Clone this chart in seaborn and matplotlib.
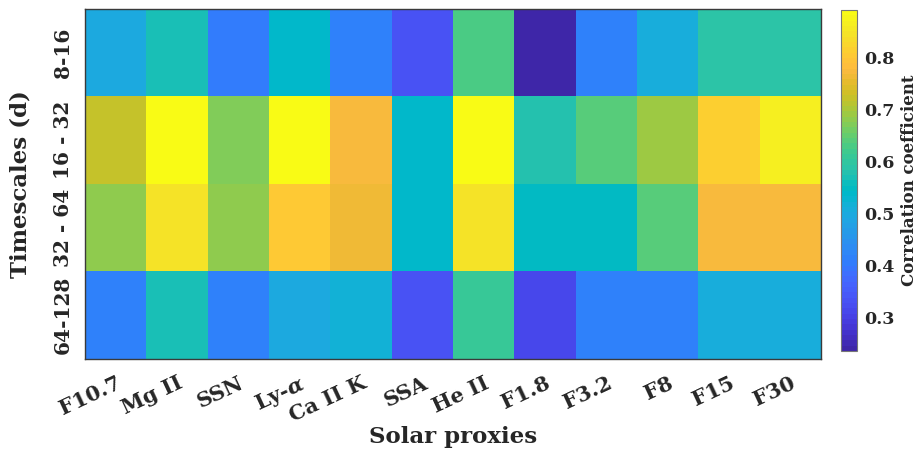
import numpy as np
import pandas as pd
import matplotlib
matplotlib.use("Agg")
import matplotlib.pyplot as plt
from matplotlib.colors import ListedColormap
import seaborn as sns

# Solar proxies (columns) and timescale bands in days (rows)
proxies = ["F10.7", "Mg II", "SSN", "Ly-$\\alpha$", "Ca II K", "SSA",
           "He II", "F1.8", "F3.2", "F8", "F15", "F30"]
timescales = ["8-16", "16 - 32", "32 - 64", "64-128"]

# Correlation coefficient for each timescale band
corr_8_16 = [0.502, 0.564, 0.405, 0.538, 0.420, 0.338, 0.630, 0.236, 0.410, 0.507, 0.584, 0.584]
corr_16_32 = [0.722, 0.891, 0.666, 0.889, 0.778, 0.543, 0.889, 0.579, 0.640, 0.696, 0.814, 0.865]
corr_32_64 = [0.686, 0.845, 0.686, 0.804, 0.763, 0.533, 0.845, 0.553, 0.553, 0.645, 0.778, 0.778]
corr_64_128 = [0.420, 0.564, 0.420, 0.497, 0.517, 0.333, 0.609, 0.308, 0.410, 0.410, 0.507, 0.507]

# 64-step parula palette
parula_rgb = [
    [0.2422, 0.1504, 0.6603], [0.2504, 0.1650, 0.7076], [0.2578, 0.1818, 0.7511],
    [0.2647, 0.1978, 0.7952], [0.2706, 0.2147, 0.8364], [0.2751, 0.2342, 0.8710],
    [0.2783, 0.2559, 0.8991], [0.2803, 0.2782, 0.9221], [0.2813, 0.3006, 0.9414],
    [0.2810, 0.3228, 0.9579], [0.2795, 0.3447, 0.9717], [0.2760, 0.3667, 0.9829],
    [0.2699, 0.3892, 0.9906], [0.2602, 0.4123, 0.9952], [0.2440, 0.4358, 0.9988],
    [0.2206, 0.4603, 0.9973], [0.1963, 0.4847, 0.9892], [0.1834, 0.5074, 0.9798],
    [0.1786, 0.5289, 0.9682], [0.1764, 0.5499, 0.9520], [0.1687, 0.5703, 0.9359],
    [0.1540, 0.5902, 0.9218], [0.1460, 0.6091, 0.9079], [0.1380, 0.6276, 0.8973],
    [0.1248, 0.6459, 0.8883], [0.1113, 0.6635, 0.8763], [0.0952, 0.6798, 0.8598],
    [0.0689, 0.6948, 0.8394], [0.0297, 0.7082, 0.8163], [0.0036, 0.7203, 0.7917],
    [0.0067, 0.7312, 0.7660], [0.0433, 0.7411, 0.7394], [0.0964, 0.7500, 0.7120],
    [0.1408, 0.7584, 0.6842], [0.1717, 0.7670, 0.6554], [0.1938, 0.7758, 0.6251],
    [0.2161, 0.7843, 0.5923], [0.2470, 0.7918, 0.5567], [0.2906, 0.7973, 0.5188],
    [0.3406, 0.8008, 0.4789], [0.3909, 0.8029, 0.4354], [0.4456, 0.8024, 0.3909],
    [0.5044, 0.7993, 0.3480], [0.5616, 0.7942, 0.3045], [0.6174, 0.7876, 0.2612],
    [0.6720, 0.7793, 0.2227], [0.7242, 0.7698, 0.1910], [0.7738, 0.7598, 0.1646],
    [0.8203, 0.7498, 0.1535], [0.8634, 0.7406, 0.1596], [0.9035, 0.7330, 0.1774],
    [0.9393, 0.7288, 0.2100], [0.9728, 0.7298, 0.2394], [0.9956, 0.7434, 0.2371],
    [0.9970, 0.7659, 0.2199], [0.9952, 0.7893, 0.2028], [0.9892, 0.8136, 0.1885],
    [0.9786, 0.8386, 0.1766], [0.9676, 0.8639, 0.1643], [0.9610, 0.8890, 0.1537],
    [0.9597, 0.9135, 0.1423], [0.9628, 0.9373, 0.1265], [0.9691, 0.9606, 0.1064],
    [0.9769, 0.9839, 0.0805],
]
parula = ListedColormap(parula_rgb, name="parula")

df = pd.DataFrame([corr_8_16, corr_16_32, corr_32_64, corr_64_128],
                  index=timescales, columns=proxies)

sns.set_theme(style="white")
plt.rcParams["font.family"] = ["DejaVu Serif"]
plt.rcParams["font.weight"] = "bold"
plt.rcParams["mathtext.fontset"] = "dejavuserif"

fig = plt.figure(figsize=(9.22, 4.54), dpi=100)
ax = fig.add_axes([0.0922, 0.2093, 0.7983, 0.7709])
cax = fig.add_axes([0.9121, 0.2269, 0.0174, 0.7511])

sns.heatmap(df, ax=ax, cmap=parula, cbar_ax=cax, linewidths=0,
            cbar_kws={"ticks": [0.3, 0.4, 0.5, 0.6, 0.7, 0.8]})

edge = "#3a3a3a"
for s in ax.spines.values():
    s.set_visible(True)
    s.set_color(edge)
    s.set_linewidth(1.0)

txt = "#262626"
ax.tick_params(axis="x", length=0, pad=10)
ax.tick_params(axis="y", length=0, pad=9)
ax.set_xticklabels(proxies, rotation=25, ha="right", va="top", rotation_mode="anchor",
                   fontsize=15, fontweight="bold", color=txt)
ax.set_yticklabels(timescales, rotation=90, va="center", fontsize=14.5,
                   fontweight="bold", color=txt)
ax.set_xlabel("Solar proxies", fontsize=16.5, fontweight="bold", color=txt, labelpad=0)
ax.set_ylabel("Timescales (d)", fontsize=16.5, fontweight="bold", color=txt, labelpad=15)

cb = ax.collections[0].colorbar
cb.outline.set_edgecolor("#777777")
cb.outline.set_linewidth(0.8)
cax.tick_params(direction="in", length=4, width=0.8, color="#555555",
                labelsize=12.5, labelcolor=txt, pad=5)
for t in cax.get_yticklabels():
    t.set_fontweight("bold")
cb.set_label("Correlation coefficient", fontsize=12, fontweight="bold",
             color=txt, labelpad=5)

fig.savefig("out.png", dpi=100)
